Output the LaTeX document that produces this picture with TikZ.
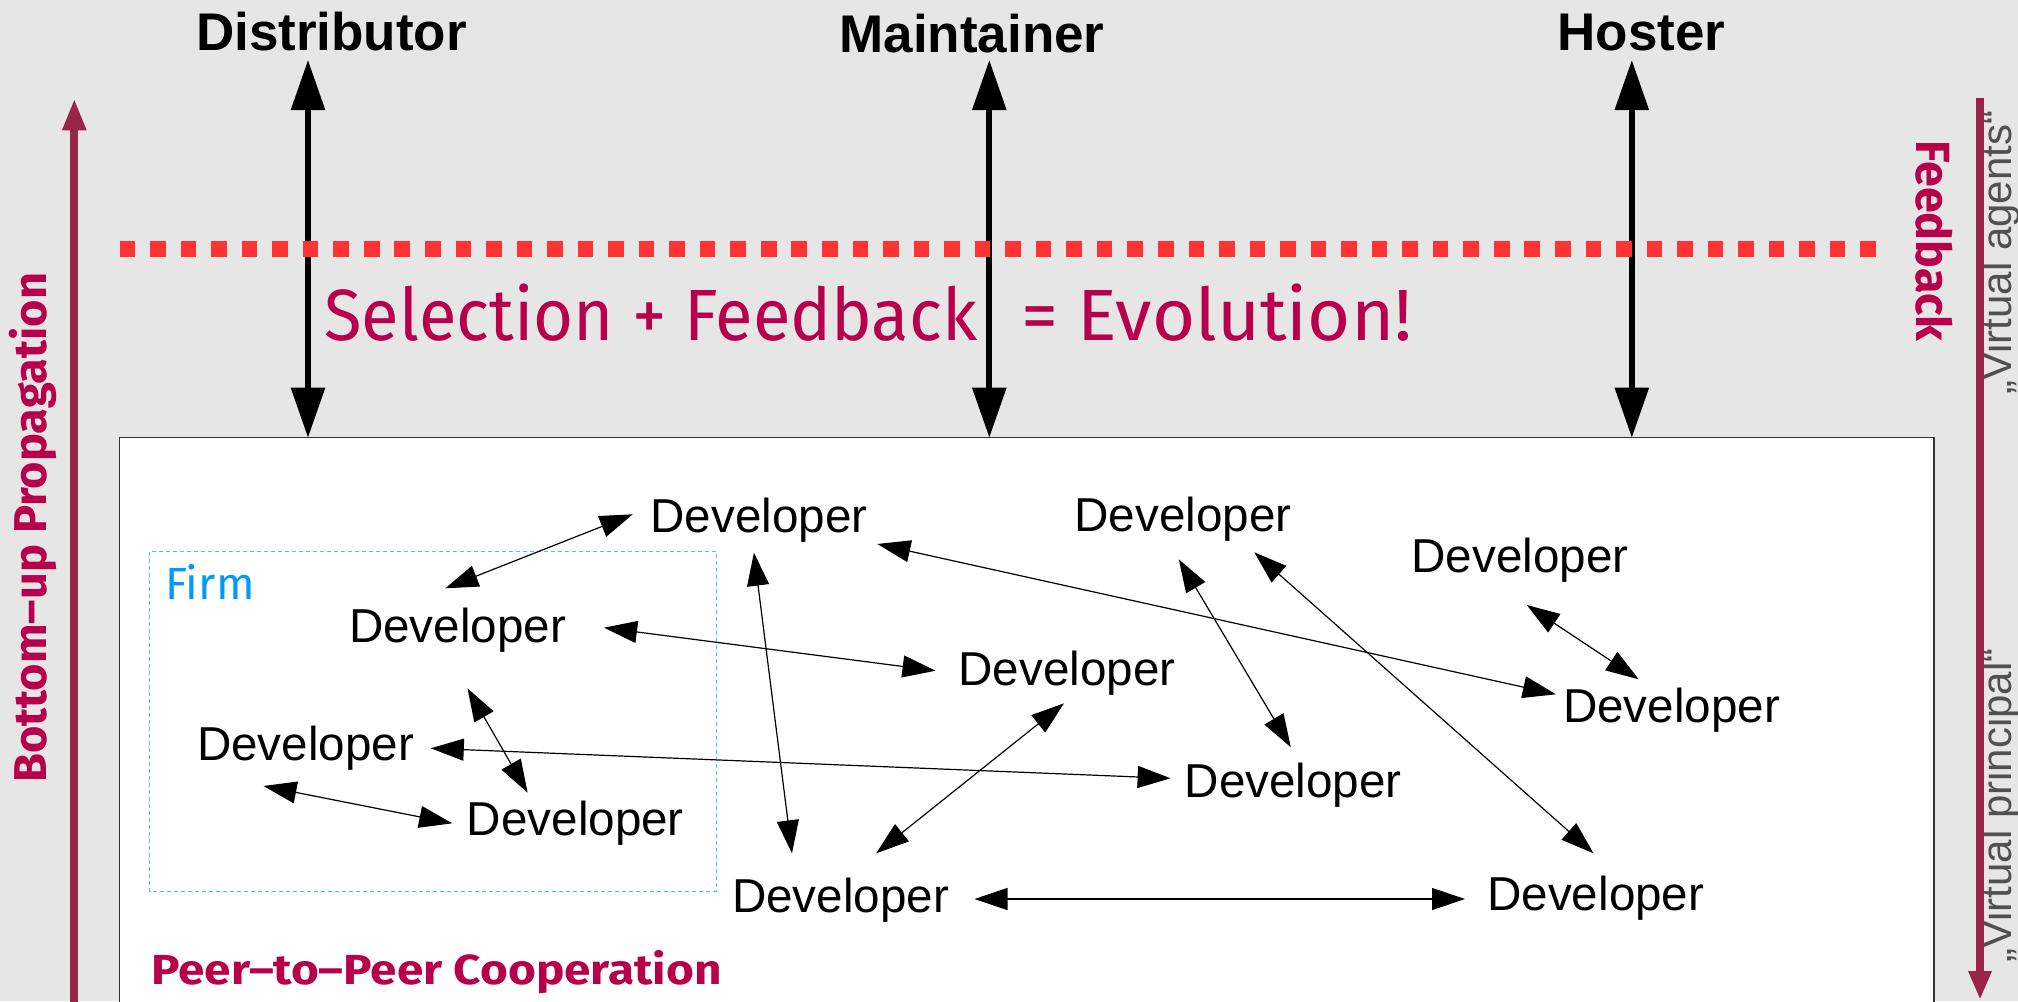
\documentclass[tikz,border=0pt]{standalone}
\usepackage{fontspec}
\setmainfont{Liberation Sans}
\newfontfamily\humfont{Fira Sans}
\usetikzlibrary{arrows.meta}

\definecolor{bggray}{RGB}{230,230,230}
\definecolor{crimson}{RGB}{184,0,74}
\definecolor{wine}{RGB}{155,37,74}
\definecolor{dotred}{RGB}{255,51,51}
\definecolor{firmline}{RGB}{60,200,240}
\definecolor{firmtext}{RGB}{0,153,255}
\definecolor{vgray}{RGB}{80,80,80}
\definecolor{boxedge}{RGB}{50,50,50}

\begin{document}
\begin{tikzpicture}[x=0.5pt,y=-0.5pt,
  dev/.style={anchor=base, inner sep=0pt, font=\fontsize{23.8}{28}\selectfont},
  role/.style={anchor=base, inner sep=0pt, font=\bfseries\fontsize{26.5}{30}\selectfont},
  link/.style={line width=0.6pt,
    {Triangle[length=16.5pt,width=11pt]}-{Triangle[length=16.5pt,width=11pt]}},
  bigarrow/.style={line width=2.9pt,
    {Triangle[length=25pt,width=16.5pt]}-{Triangle[length=25pt,width=16.5pt]}},
  flowarrow/.style={wine, line width=4pt, -{Triangle[length=16pt,width=11pt]}},
  sidelabel/.style={inner sep=0pt, anchor=base west},
  virtual/.style={sidelabel, rotate=90, text=vgray, font=\fontsize{21}{24}\selectfont},
]
% canvas
\useasboundingbox (0,0) rectangle (2018,1001);
\clip (0,0) rectangle (2018,1001);
\fill[bggray] (0,0) rectangle (2018,1001);

% peer-to-peer area
\coordinate (boxTL) at (119.3,437.7);
\filldraw[fill=white, draw=boxedge, line width=0.7pt] (boxTL) rectangle (1934,1020);

% firm boundary
\draw[firmline, line width=0.5pt, dash pattern=on 2pt off 1.5pt] (149.7,551.7) rectangle (716.5,891);
\node[sidelabel, text=firmtext, font=\humfont\fontsize{22.5}{26}\selectfont] (firm) at (165,599.3) {Firm};

% roles on top
\node[role] (dist) at (331.5,50) {Distributor};
\node[role] (maint) at (972,52.7) {Maintainer};
\node[role] (host) at (1641.4,50) {Hoster};

\coordinate (distTop) at (308,60);
\coordinate (maintTop) at (989.3,60);
\coordinate (hostTop) at (1631.8,60);
\draw[bigarrow] (distTop) -- (distTop |- boxTL);
\draw[bigarrow] (maintTop) -- (maintTop |- boxTL);
\draw[bigarrow] (hostTop) -- (hostTop |- boxTL);

% selection boundary
\draw[dotred, line width=8pt, dash pattern=on 7.8pt off 7.47pt] (119.6,248.7) -- (1876,248.7);

\node[sidelabel, text=crimson, font=\humfont\fontsize{36.3}{40}\selectfont] (evo) at (324,340)
  {\scalebox{0.946}[1]{Selection + Feedback}\hspace{22pt}\scalebox{1.02}[1]{= Evolution!}};

% developers
\node[dev] (Da) at (759,532) {Developer};
\node[dev] (Db) at (1183,531) {Developer};
\node[dev] (Dc) at (1520,572) {Developer};
\node[dev] (Dd) at (457.5,642) {Developer};
\node[dev] (De) at (1067,685) {Developer};
\node[dev] (Df) at (1671.5,722) {Developer};
\node[dev] (Dg) at (305.6,760) {Developer};
\node[dev] (Dh) at (1293.3,797) {Developer};
\node[dev] (Di) at (575.4,835) {Developer};
\node[dev] (Dj) at (840.5,912) {Developer};
\node[dev] (Dk) at (1595.8,910) {Developer};

% cooperation links
\draw[link] ([shift={(-12.2,-53.7)}]Dd.base) -- ([shift={(-126.2,-17.7)}]Da.base);
\draw[link] ([shift={(-5.1,20.7)}]Da.base) -- ([shift={(-48.5,-58.7)}]Dj.base);
\draw[link] ([shift={(118.4,12)}]Da.base) -- ([shift={(-115.7,-27.7)}]Df.base);
\draw[link] ([shift={(-4.2,28.3)}]Db.base) -- ([shift={(-2.5,-49.8)}]Dh.base);
\draw[link] ([shift={(71.3,21.3)}]Db.base) -- ([shift={(-2.3,-56.7)}]Dk.base);
\draw[link] ([shift={(6.8,33)}]Dc.base) -- ([shift={(-32.8,-42.7)}]Df.base);
\draw[link] ([shift={(146.6,-14.3)}]Dd.base) -- ([shift={(-131.5,-14.3)}]De.base);
\draw[link] ([shift={(10,46.3)}]Dd.base) -- ([shift={(-47.8,-42.3)}]Di.base);
\draw[link] ([shift={(125.2,-11.7)}]Dg.base) -- ([shift={(-122.7,-18.7)}]Dh.base);
\draw[link] ([shift={(-42.1,26)}]Dg.base) -- ([shift={(-123.2,-11.7)}]Di.base);
\draw[link] ([shift={(-3,18.3)}]De.base) -- ([shift={(35.7,-58.7)}]Dj.base);
\draw[link] ([shift={(134,-13)}]Dj.base) -- ([shift={(-130.8,-11)}]Dk.base);

\node[sidelabel, text=crimson, font=\humfont\bfseries\fontsize{21}{24}\selectfont] (p2p) at (151,984)
  {\scalebox{1.135}[1]{Peer–to–Peer Cooperation}};

% side flows
\node[sidelabel, rotate=90, text=crimson, font=\humfont\bfseries\fontsize{23}{26}\selectfont] (bottomup)
  at (46.7,783.3) {\scalebox{1.02}[1]{Bottom–up Propagation}};
\node[sidelabel, rotate=-90, text=crimson, font=\humfont\bfseries\fontsize{24}{27}\selectfont] (feedback)
  at (1916.4,140) {\scalebox{0.97}[1]{Feedback}};
\node[virtual] (vagents) at (2011,395) {„Virtual agents“};
\node[virtual] (vprincipal) at (2011,963) {„Virtual principal“};

\coordinate (upStart) at (74.3,1010);
\coordinate (upEnd) at (74.3,98.3);
\coordinate (downStart) at (1980,98.3);
\coordinate (downEnd) at (1980,1000);
\draw[flowarrow] (upStart) -- (upEnd);
\draw[flowarrow, line width=3.7pt, -{Triangle[length=14.5pt,width=10.8pt]}] (downStart) -- (downEnd);
\end{tikzpicture}
\end{document}
